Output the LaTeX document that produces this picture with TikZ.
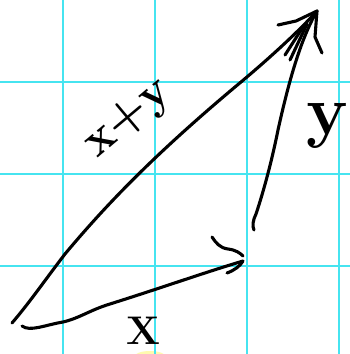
\documentclass[tikz,border=0pt]{standalone}
\usepackage{tikz}
\definecolor{gridcyan}{RGB}{70,228,240}
\definecolor{marker}{RGB}{255,250,175}
\tikzset{ink/.style={line width=3.1pt,line cap=round,line join=round,black},
  label/.style={inner sep=0pt,font=\fontsize{#1}{#1}\selectfont\bfseries}}

\begin{document}
\begin{tikzpicture}[x=1pt,y=-1pt]
\useasboundingbox (0,0) rectangle (350,354);
\fill[white] (0,0) rectangle (350,354);
\fill[marker] (150,357) ellipse (16pt and 6pt);

% grid
\foreach \gx in {63,155,247,339}
  \draw[gridcyan,line width=1.8pt] (\gx,0) -- (\gx,354);
\foreach \gy in {82,174,266}
  \draw[gridcyan,line width=1.8pt] (0,\gy) -- (350,\gy);

\coordinate (o) at (12,323);
\coordinate (p) at (243,261);
\coordinate (q) at (254,230);
\coordinate (t) at (317,11);

% x
\draw[ink] (22,326) .. controls (30,332) and (45,325) .. (63,322)
  .. controls (80,318) and (90,310) .. (110,304)
  .. controls (170,285) and (200,274) .. (p);
\draw[ink] (212,237) .. controls (216,243) and (220,248) .. (228,249)
  .. controls (236,250) and (240,253) .. (243,256);
\draw[ink] (227,273) .. controls (235,270) and (240,266) .. (p);

% y
\draw[ink] (q) .. controls (252,226) and (253,220) .. (256,214)
  .. controls (264,190) and (272,160) .. (278,130)
  .. controls (288,85) and (300,40) .. (t);

% x+y
\draw[ink] (o) .. controls (30,302) and (45,280) .. (65,254)
  .. controls (110,200) and (160,150) .. (235,87)
  .. controls (270,58) and (300,30) .. (t);

% tip of x+y and y
\draw[ink] (278,25) -- (296,21) -- (t);
\draw[ink] (285,55) -- (303,27);
\draw[ink] (290,60) -- (307,24);
\draw[ink] (t) -- (315,37) -- (322,53);

% labels
\node[label=48,rotate=40] (sum) at (129,119) {x+y};
\node[label=70] (ylab) at (327,126) {y};
\node[label=40] (xlab) at (143,331) {X};
\end{tikzpicture}
\end{document}
